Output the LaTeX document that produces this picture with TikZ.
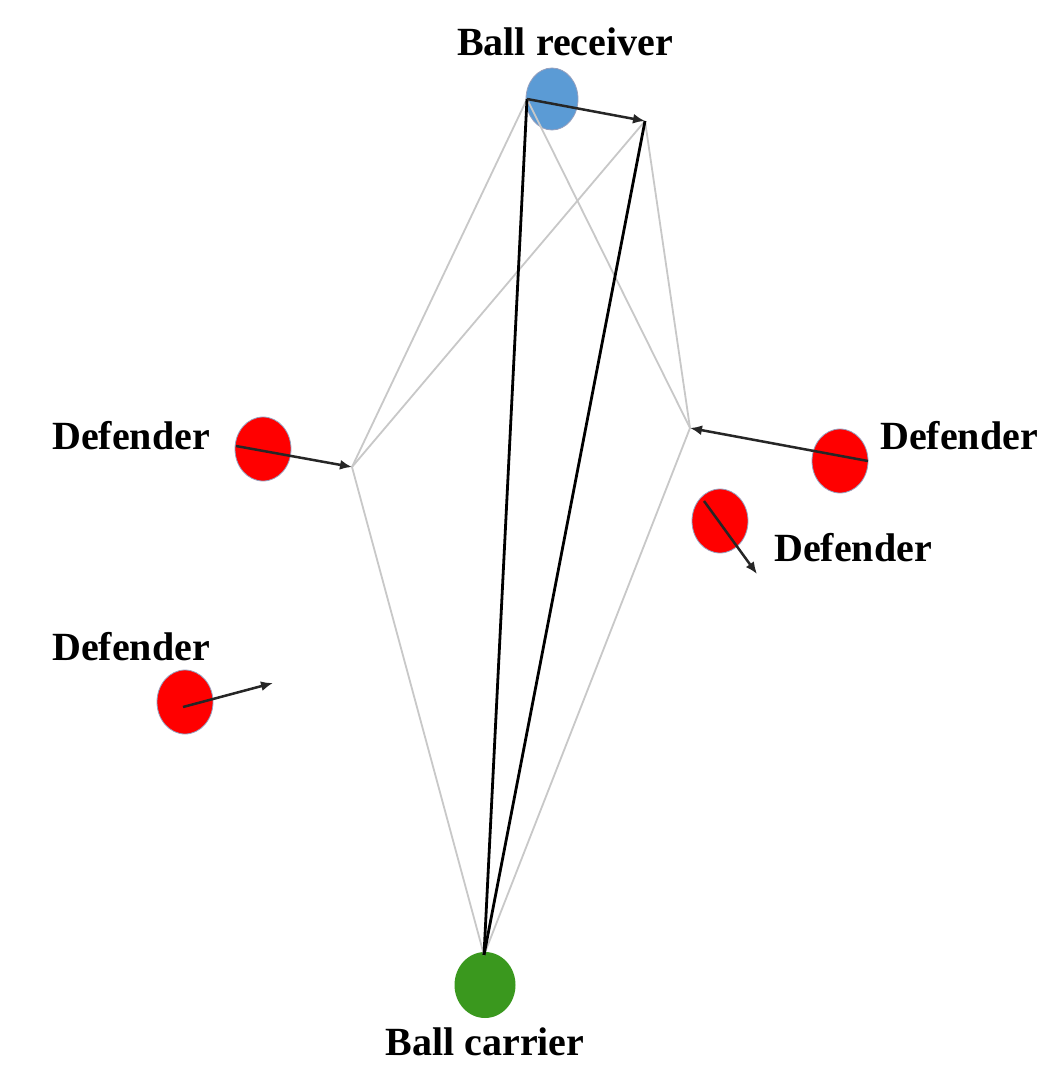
\documentclass[tikz,border=0pt]{standalone}
\usepackage{fontspec}
\setmainfont{Liberation Serif}
\usetikzlibrary{shapes.geometric,arrows.meta}
\definecolor{rcvblue}{RGB}{91,155,213}
\definecolor{carriergreen}{RGB}{58,152,30}
\definecolor{defred}{RGB}{255,0,0}
\definecolor{rimcol}{RGB}{150,160,190}
\definecolor{linkgray}{RGB}{200,200,200}
\tikzset{
  player/.style={ellipse, minimum width=56pt, minimum height=64pt, inner sep=0pt, draw=rimcol, line width=0.8pt},
  defender/.style={player, fill=defred},
  lbl/.style={font=\fontsize{40}{44}\selectfont\bfseries, inner sep=0pt},
  link/.style={draw=linkgray, line width=1.8pt},
  pass/.style={draw=black, line width=2.8pt},
  move/.style={draw=black!85, line width=2.5pt, -{Latex[length=12pt,width=10pt]}}
}
\begin{document}
\begin{tikzpicture}[x=1pt,y=-1pt]
\useasboundingbox[fill=white] (0,0) rectangle (1042,1065);

% players
\node[player, fill=rcvblue, minimum width=52pt, minimum height=62pt] (rcv) at (552,99) {};
\node[player, fill=carriergreen, draw=none, minimum width=61pt, minimum height=66pt] (car) at (485,985) {};
\node[defender] (defL) at (263,449) {};
\node[defender] (defR) at (840,461) {};
\node[defender] (defM) at (720,521) {};
\node[defender] (defB) at (185,702) {};

% labels
\node[lbl] (tRcv) at (565,42) {Ball receiver};
\node[lbl] (tCar) at (485,1042) {Ball carrier};
\node[lbl, anchor=west] (tDefL) at (52,436) {Defender};
\node[lbl, anchor=west] (tDefR) at (880,436) {Defender};
\node[lbl, anchor=west] (tDefM) at (774,548) {Defender};
\node[lbl, anchor=west] (tDefB) at (52,647) {Defender};

% reference points of the passing lanes
\coordinate (rcvL) at (527,99);
\coordinate (rcvT) at (645,121);
\coordinate (midL) at (352,467);
\coordinate (midR) at (690,428);
\coordinate (carT) at (484,955);
\coordinate (defLs) at (236,446);
\coordinate (defRs) at (868,461);
\coordinate (defMs) at (704,501);
\coordinate (defMe) at (757,574);
\coordinate (defBs) at (183,707);
\coordinate (defBe) at (273,683);

% gray lanes
\draw[link] (rcvL) -- (midL);
\draw[link] (rcvT) -- (midL);
\draw[link] (rcvL) -- (midR);
\draw[link] (rcvT) -- (midR);
\draw[link] (midL) -- (carT);
\draw[link] (midR) -- (carT);

% pass lines
\draw[pass] (rcvL) -- (carT);
\draw[pass] (rcvT) -- (carT);

% movement arrows
\draw[move] (rcvL) -- (rcvT);
\draw[move] (defLs) -- (midL);
\draw[move] (defRs) -- (midR);
\draw[move] (defMs) -- (defMe);
\draw[move] (defBs) -- (defBe);
\end{tikzpicture}
\end{document}
